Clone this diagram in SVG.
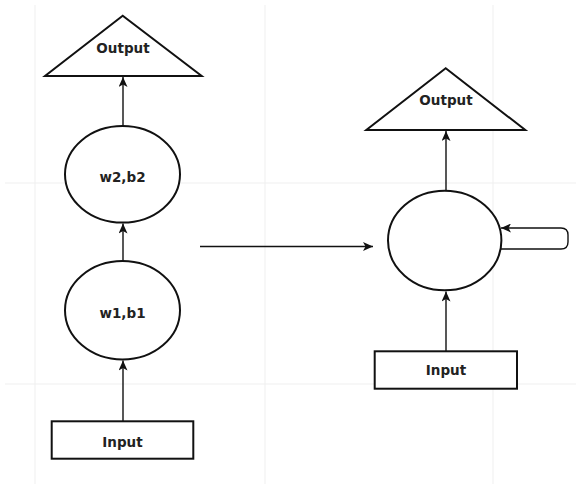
<svg xmlns="http://www.w3.org/2000/svg" width="576" height="484" viewBox="0 0 576 484">
  <style>
    .grid { stroke: #efefef; stroke-width: 1; fill: none; }
    .shape { fill: #ffffff; stroke: #111111; stroke-width: 2; }
    .conn { fill: none; stroke: #111111; stroke-width: 1.4; }
    .lbl { font-family: "DejaVu Sans", "Liberation Sans", sans-serif; font-weight: bold; font-size: 13.5px; fill: #222222; text-anchor: middle; }
  </style>
  <defs>
    <marker id="arr" markerUnits="userSpaceOnUse" markerWidth="11" markerHeight="9" refX="10" refY="4.5" orient="auto">
      <path d="M0,0 L10,4.5 L0,9 L2.5,4.5 z" fill="#111111"/>
    </marker>
  </defs>
  <rect x="0" y="0" width="576" height="484" fill="#ffffff"/>
  <g id="grid">
    <line class="grid" x1="35" y1="5" x2="35" y2="484"/>
    <line class="grid" x1="265" y1="5" x2="265" y2="484"/>
    <line class="grid" x1="493" y1="5" x2="493" y2="484"/>
    <line class="grid" x1="5" y1="183" x2="576" y2="183"/>
    <line class="grid" x1="5" y1="384" x2="576" y2="384"/>
  </g>
  <g id="connectors">
    <line class="conn" x1="123" y1="421" x2="123" y2="360.5" marker-end="url(#arr)"/>
    <line class="conn" x1="123" y1="261" x2="123" y2="223.5" marker-end="url(#arr)"/>
    <line class="conn" x1="123" y1="126" x2="123" y2="77" marker-end="url(#arr)"/>
    <line class="conn" x1="200" y1="246.5" x2="373" y2="246.5" marker-end="url(#arr)"/>
    <line class="conn" x1="446" y1="351" x2="446" y2="291.5" marker-end="url(#arr)"/>
    <line class="conn" x1="446" y1="190.5" x2="446" y2="131" marker-end="url(#arr)"/>
    <path class="conn" d="M500.6,249 L561,249 Q568,249 568,242 L568,235 Q568,228 561,228 L501,228" marker-end="url(#arr)"/>
  </g>
  <g id="left-output">
    <polygon class="shape" points="122.7,15.7 45,76 201.7,76"/>
    <text class="lbl" x="123" y="53">Output</text>
  </g>
  <g id="w2b2">
    <ellipse class="shape" cx="122.5" cy="174.3" rx="57.5" ry="48.3"/>
    <text class="lbl" x="122.5" y="182">w2,b2</text>
  </g>
  <g id="w1b1">
    <ellipse class="shape" cx="122.5" cy="310.2" rx="57.5" ry="49.2"/>
    <text class="lbl" x="122.5" y="317.5">w1,b1</text>
  </g>
  <g id="left-input">
    <rect class="shape" x="51.7" y="421.3" width="141.6" height="37.4"/>
    <text class="lbl" x="122.5" y="447">Input</text>
  </g>
  <g id="right-output">
    <polygon class="shape" points="445.7,68.3 366.3,130 525.3,130"/>
    <text class="lbl" x="446" y="105">Output</text>
  </g>
  <g id="rnn-cell">
    <ellipse class="shape" cx="444.7" cy="240.5" rx="56.7" ry="49.8"/>
  </g>
  <g id="right-input">
    <rect class="shape" x="374.7" y="351.3" width="142.3" height="37.4"/>
    <text class="lbl" x="446" y="375">Input</text>
  </g>
</svg>
